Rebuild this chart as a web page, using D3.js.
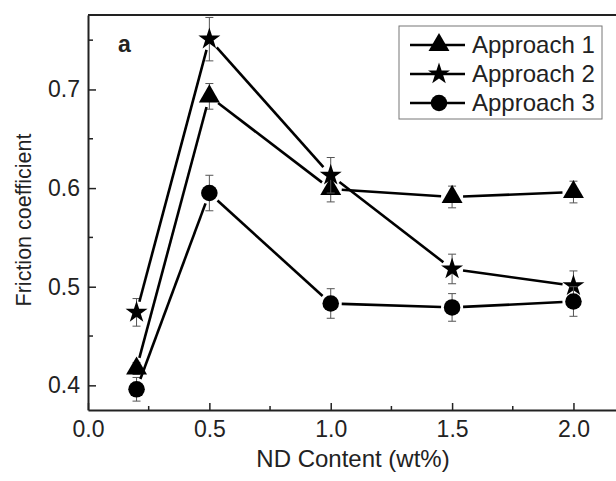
<!DOCTYPE html>
<html>
<head>
<meta charset="utf-8">
<script src="https://cdn.jsdelivr.net/npm/d3@7"></script>
<style>
  body { margin: 0; background: #fff; }
  text { font-family: "Liberation Sans", Arial, sans-serif; fill: #222; }
</style>
</head>
<body>
<div id="plot"></div>
<script>
// ND content vs friction coefficient, three approaches

var ndContent = [0.2, 0.5, 1.0, 1.5, 2.0];

var approach1 = [0.417, 0.693, 0.599, 0.591, 0.596];
var approach1Err = [0.006, 0.013, 0.013, 0.011, 0.011];

var approach2 = [0.474, 0.751, 0.613, 0.518, 0.501];
var approach2Err = [0.014, 0.022, 0.018, 0.015, 0.015];

var approach3 = [0.396, 0.595, 0.483, 0.479, 0.485];
var approach3Err = [0.012, 0.018, 0.015, 0.014, 0.015];

var seriesNames = ["Approach 1", "Approach 2", "Approach 3"];
var xTicks = [0.0, 0.5, 1.0, 1.5, 2.0];
var yTicks = [0.4, 0.5, 0.6, 0.7];

var svgWidth = 616;
var svgHeight = 481;

var margin = { top: 15, right: -6, bottom: 71, left: 88 };
var width = svgWidth - margin.left - margin.right;
var height = svgHeight - margin.top - margin.bottom;

var svg = d3.select("#plot")
  .append("svg")
  .attr("width", svgWidth)
  .attr("height", svgHeight);

var chartGroup = svg.append("g")
  .attr("transform", `translate(${margin.left}, ${margin.top})`);

var xScale = d3.scaleLinear().domain([0, 2.2]).range([0, width]);
var yScale = d3.scaleLinear().domain([0.375, 0.7755]).range([height, 0]);

// frame top line (right side is cut off in the figure)
chartGroup.append("line").attr("x1", 0).attr("x2", width).attr("y1", 0).attr("y2", 0)
  .attr("stroke", "#222").attr("stroke-width", 2);

var bottomAxis = d3.axisBottom(xScale).tickValues(xTicks).tickFormat(d3.format(".1f"))
  .tickSizeInner(-7).tickSizeOuter(0).tickPadding(11);
var leftAxis = d3.axisLeft(yScale).tickValues(yTicks).tickFormat(d3.format(".1f"))
  .tickSizeInner(-8).tickSizeOuter(0).tickPadding(8);

var gx = chartGroup.append("g").attr("transform", `translate(0, ${height})`).call(bottomAxis);
var gy = chartGroup.append("g").call(leftAxis);

[gx, gy].forEach(function (g) {
  g.attr("font-size", null).attr("font-family", null);
  g.select(".domain").attr("stroke", "#222").attr("stroke-width", 2);
  g.selectAll(".tick line").attr("stroke", "#222").attr("stroke-width", 1.5);
  g.selectAll(".tick text").style("font-size", "23px").attr("fill", "#222");
});

// minor ticks
chartGroup.append("g").selectAll("line")
  .data([0.25, 0.75, 1.25, 1.75])
  .enter().append("line")
  .attr("x1", d => xScale(d)).attr("x2", d => xScale(d))
  .attr("y1", height).attr("y2", height - 4)
  .attr("stroke", "#222").attr("stroke-width", 1.5);

chartGroup.append("g").selectAll("line")
  .data([0.45, 0.55, 0.65, 0.75])
  .enter().append("line")
  .attr("x1", 0).attr("x2", 5)
  .attr("y1", d => yScale(d)).attr("y2", d => yScale(d))
  .attr("stroke", "#222").attr("stroke-width", 1.5);

var symbols = [
  d3.symbol().type(d3.symbolTriangle).size(190),
  d3.symbol().type(d3.symbolStar).size(150),
  d3.symbol().type(d3.symbolCircle).size(215)
];

var series = [
  { values: approach1, err: approach1Err, symbol: symbols[0] },
  { values: approach2, err: approach2Err, symbol: symbols[1] },
  { values: approach3, err: approach3Err, symbol: symbols[2] }
];

var gap = 11;

series.forEach(function (s) {
  var pts = ndContent.map((x, i) => ({ x: xScale(x), y: yScale(s.values[i]), v: s.values[i], e: s.err[i] }));

  // error bars
  var eb = chartGroup.append("g");
  pts.forEach(function (p) {
    var y1 = yScale(p.v + p.e), y2 = yScale(p.v - p.e);
    eb.append("line").attr("x1", p.x).attr("x2", p.x).attr("y1", y1).attr("y2", y2)
      .attr("stroke", "#555").attr("stroke-width", 1);
    [y1, y2].forEach(function (yy) {
      eb.append("line").attr("x1", p.x - 4).attr("x2", p.x + 4).attr("y1", yy).attr("y2", yy)
        .attr("stroke", "#555").attr("stroke-width", 1);
    });
  });

  // connecting segments with gaps round the markers
  for (var i = 0; i < pts.length - 1; i++) {
    var a = pts[i], b = pts[i + 1];
    var dx = b.x - a.x, dy = b.y - a.y, len = Math.sqrt(dx * dx + dy * dy);
    var ux = dx / len, uy = dy / len;
    chartGroup.append("line")
      .attr("x1", a.x + ux * gap).attr("y1", a.y + uy * gap)
      .attr("x2", b.x - ux * gap).attr("y2", b.y - uy * gap)
      .attr("stroke", "#000").attr("stroke-width", 2.6);
  }

  chartGroup.append("g").selectAll("path")
    .data(pts)
    .enter().append("path")
    .attr("d", s.symbol)
    .attr("transform", d => `translate(${d.x}, ${d.y})`)
    .attr("fill", "#000");
});

// panel label
chartGroup.append("text")
  .attr("x", 30).attr("y", 37)
  .style("font-size", "23px").style("font-weight", "bold")
  .text("a");

// legend
var legend = svg.append("g").attr("transform", "translate(399, 26)");
legend.append("rect")
  .attr("width", 203).attr("height", 93)
  .attr("fill", "#fff").attr("stroke", "#777").attr("stroke-width", 1);

seriesNames.forEach(function (name, i) {
  var yy = 19 + i * 29;
  legend.append("line").attr("x1", 11).attr("x2", 66).attr("y1", yy).attr("y2", yy)
    .attr("stroke", "#000").attr("stroke-width", 2.6);
  legend.append("path").attr("d", symbols[i]).attr("transform", `translate(40, ${yy})`).attr("fill", "#000");
  legend.append("text").attr("x", 73).attr("y", yy + 8)
    .style("font-size", "24px").text(name);
});

// axis labels
chartGroup.append("text")
  .attr("transform", "rotate(-90)")
  .attr("x", -205)
  .attr("y", -57)
  .attr("text-anchor", "middle")
  .style("font-size", "21.5px")
  .text("Friction coefficient");

chartGroup.append("text")
  .attr("x", 353 - margin.left)
  .attr("y", 452)
  .attr("text-anchor", "middle")
  .style("font-size", "24px")
  .text("ND Content (wt%)");
</script>
</body>
</html>
